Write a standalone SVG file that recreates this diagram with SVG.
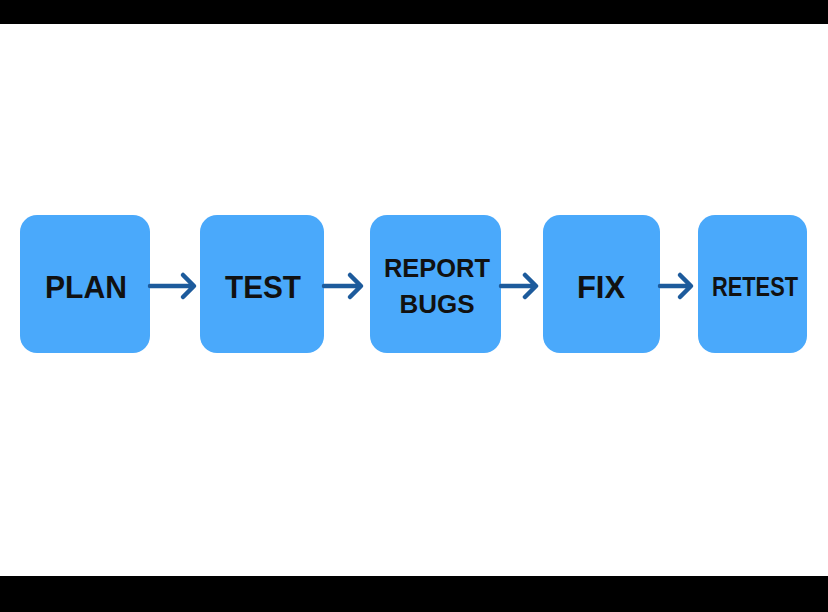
<svg xmlns="http://www.w3.org/2000/svg" width="828" height="612" viewBox="0 0 828 612">
<style>
.box{fill:#4aa9fb}
.t{font-family:"Liberation Sans",Arial,sans-serif;font-weight:bold;fill:#111;text-anchor:middle}
.c{stroke:#1d5b9c;stroke-width:4.5;fill:none;stroke-linecap:round;stroke-linejoin:round}
</style>
<rect x="0" y="0" width="828" height="612" fill="#fff"/>
<rect x="0" y="0" width="828" height="24" fill="#000"/>
<rect x="0" y="576" width="828" height="36" fill="#000"/>
<g id="plan"><rect class="box" x="20" y="215" width="130" height="138" rx="17"/><text class="t" x="86" y="298" font-size="31" textLength="82" lengthAdjust="spacingAndGlyphs">PLAN</text></g>
<g id="test"><rect class="box" x="200" y="215" width="124" height="138" rx="17"/><text class="t" x="263" y="298" font-size="31" textLength="76" lengthAdjust="spacingAndGlyphs">TEST</text></g>
<g id="report"><rect class="box" x="370" y="215" width="131" height="138" rx="17"/><text class="t" x="437" y="277" font-size="26" textLength="106" lengthAdjust="spacingAndGlyphs">REPORT</text><text class="t" x="437" y="313" font-size="26">BUGS</text></g>
<g id="fix"><rect class="box" x="543" y="215" width="117" height="138" rx="17"/><text class="t" x="601" y="298" font-size="31">FIX</text></g>
<g id="retest"><rect class="box" x="698" y="215" width="109" height="138" rx="17"/><text class="t" x="755" y="296" font-size="28" textLength="86" lengthAdjust="spacingAndGlyphs">RETEST</text></g>
<g id="connectors">
<path class="c" d="M150 286H193M183 275L194 286L183 297"/>
<path class="c" d="M324 286H360M350 275L361 286L350 297"/>
<path class="c" d="M501 286H535M525 275L536 286L525 297"/>
<path class="c" d="M660 286H690M680 275L691 286L680 297"/>
</g>
</svg>
